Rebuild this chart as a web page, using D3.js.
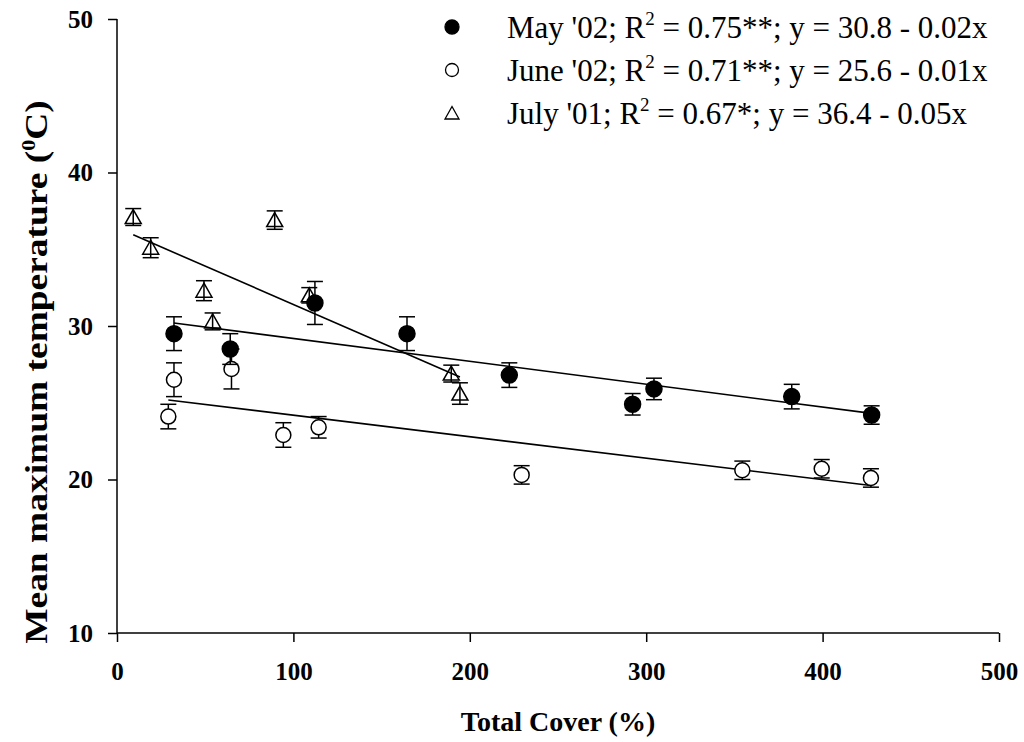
<!DOCTYPE html>
<html>
<head>
<meta charset="utf-8">
<script src="https://d3js.org/d3.v7.min.js"></script>
<style>
  body { margin: 0; background: #fff; }
  text { font-family: "Liberation Serif", "Times New Roman", serif; }
</style>
</head>
<body>
<div id="chart"></div>
<script>
// ---------------------------------------------
// ---------        Data               ---------
// ---------------------------------------------
var mayX = [32.3, 64.2, 112.2, 164.4, 222.4, 292.3, 304.4, 382.5, 427.8];
var mayY = [29.5, 28.5, 31.5, 29.5, 26.8, 24.9, 25.9, 25.4, 24.2];
var mayErr = [1.1, 1.0, 1.4, 1.1, 0.8, 0.7, 0.7, 0.8, 0.6];

var juneX = [29.1, 32.3, 64.9, 94.3, 114.3, 229.4, 354.5, 399.5, 427.4];
var juneY = [24.1, 26.5, 27.2, 22.9, 23.4, 20.3, 20.6, 20.7, 20.1];
var juneErr = [0.8, 1.1, 1.3, 0.8, 0.7, 0.6, 0.6, 0.6, 0.6];

var julyX = [9.2, 19.1, 49.3, 54.2, 89.4, 109.0, 189.5, 194.4];
var julyY = [37.1, 35.1, 32.3, 30.3, 36.9, 32.0, 26.9, 25.6];
var julyErr = [0.55, 0.65, 0.65, 0.55, 0.6, 0.5, 0.55, 0.7];

// fitted lines: intercept, slope, x range
var fitMay = [30.68, -0.0149, 32.3, 427.8];
var fitJune = [25.59, -0.0140, 29.1, 427.4];
var fitJuly = [36.4, -0.05, 9.2, 194.4];

var xTicks = [0, 100, 200, 300, 400, 500];
var yTicks = [10, 20, 30, 40, 50];

var legendLabels = [
  ["May '02; R", " = 0.75**; y = 30.8 - 0.02x"],
  ["June '02; R", " = 0.71**; y = 25.6 - 0.01x"],
  ["July '01; R", " = 0.67*; y = 36.4 - 0.05x"]
];
var legendShapes = ["filled", "open", "triangle"];

// ---------------------------------------------
// ---------    Basic Chart Layout      --------
// ---------------------------------------------
var width = 1024, height = 742;
var plotLeft = 117, plotRight = 999, plotTop = 19, plotBottom = 633;

var svg = d3.select("#chart")
  .append("svg")
    .attr("width", width)
    .attr("height", height);

var x = d3.scaleLinear().domain([0, 500]).range([plotLeft, plotRight]);
var y = d3.scaleLinear().domain([10, 50]).range([plotBottom, plotTop]);

// X axis
var xAxis = svg.append("g")
  .attr("transform", "translate(0," + plotBottom + ")")
  .call(d3.axisBottom(x).tickValues(xTicks).tickSize(9).tickPadding(20).tickFormat(d3.format("d")));

// Y axis
var yAxis = svg.append("g")
  .attr("transform", "translate(" + plotLeft + ",0)")
  .call(d3.axisLeft(y).tickValues(yTicks).tickSize(9).tickPadding(15).tickFormat(d3.format("d")));

[xAxis, yAxis].forEach(function(ax) {
  ax.attr("font-size", 25).attr("font-family", "'Liberation Serif', serif").attr("font-weight", "bold");
  ax.selectAll("path, line").attr("stroke", "#000").attr("stroke-width", 1.5);
  ax.selectAll("text").attr("fill", "#000");
});
xAxis.select(".domain").attr("d", "M" + plotLeft + ",0H" + plotRight);
yAxis.select(".domain").attr("d", "M0," + plotBottom + "V" + plotTop);

// axis titles
svg.append("text")
  .attr("x", (plotLeft + plotRight) / 2)
  .attr("y", 731)
  .attr("text-anchor", "middle")
  .style("font-weight", "bold")
  .style("font-size", "28px")
  .text("Total Cover (%)");

// y title is drawn a bit stretched along its length, like the source
var yTitle = svg.append("text")
  .attr("transform", "translate(47," + 372 + ") rotate(-90) scale(1.17,1)")
  .attr("text-anchor", "middle")
  .style("font-weight", "bold")
  .style("font-size", "32px");
yTitle.append("tspan").text("Mean maximum temperature (");
yTitle.append("tspan").attr("dy", -12).style("font-size", "19px").text("0");
yTitle.append("tspan").attr("dy", 12).text("C)");

// ---------------------------------------------
// ---------       Chart Data           --------
// ---------------------------------------------
function zipSeries(xs, ys, es) {
  return xs.map(function(v, i) { return { x: v, y: ys[i], e: es[i] }; });
}
var may = zipSeries(mayX, mayY, mayErr);
var june = zipSeries(juneX, juneY, juneErr);
var july = zipSeries(julyX, julyY, julyErr);

// regression lines
[fitMay, fitJune, fitJuly].forEach(function(f) {
  svg.append("line")
    .attr("x1", x(f[2])).attr("y1", y(f[0] + f[1] * f[2]))
    .attr("x2", x(f[3])).attr("y2", y(f[0] + f[1] * f[3]))
    .attr("stroke", "#000")
    .attr("stroke-width", 1.6);
});

// error bars
function drawErrors(data) {
  var g = svg.append("g").attr("stroke", "#000").attr("stroke-width", 1.5);
  data.forEach(function(d) {
    g.append("line").attr("x1", x(d.x)).attr("x2", x(d.x))
      .attr("y1", y(d.y - d.e)).attr("y2", y(d.y + d.e));
    g.append("line").attr("x1", x(d.x) - 8).attr("x2", x(d.x) + 8)
      .attr("y1", y(d.y + d.e)).attr("y2", y(d.y + d.e));
    g.append("line").attr("x1", x(d.x) - 8).attr("x2", x(d.x) + 8)
      .attr("y1", y(d.y - d.e)).attr("y2", y(d.y - d.e));
  });
}

var triPath = "M0,-7.5L8,6.5L-8,6.5Z";

function drawMarkers(data, shape) {
  var g = svg.append("g");
  if (shape === "triangle") {
    g.selectAll("path").data(data).join("path")
      .attr("transform", function(d) { return "translate(" + x(d.x) + "," + y(d.y) + ")"; })
      .attr("d", triPath)
      .attr("fill", "none")
      .attr("stroke", "#000")
      .attr("stroke-width", 1.5);
  } else {
    g.selectAll("circle").data(data).join("circle")
      .attr("cx", function(d) { return x(d.x); })
      .attr("cy", function(d) { return y(d.y); })
      .attr("r", shape === "filled" ? 8 : 7.5)
      .attr("fill", shape === "filled" ? "#000" : "#fff")
      .attr("stroke", "#000")
      .attr("stroke-width", 1.5);
  }
}

drawErrors(july);
drawMarkers(july, "triangle");
drawErrors(june);
drawMarkers(june, "open");
drawErrors(may);
drawMarkers(may, "filled");

// ---------------------------------------------
// ---------         Legend             --------
// ---------------------------------------------
var legend = svg.selectAll(".legend")
  .data(legendLabels)
  .enter()
  .append("g")
  .attr("class", "legend")
  .attr("transform", function(d, i) { return "translate(0," + (27 + i * 43) + ")"; });

legend.each(function(d, i) {
  var g = d3.select(this);
  var shape = legendShapes[i];
  if (shape === "triangle") {
    g.append("path").attr("transform", "translate(452,0)")
      .attr("d", "M0,-6.5L7,6L-7,6Z")
      .attr("fill", "none").attr("stroke", "#000").attr("stroke-width", 1.3);
  } else {
    g.append("circle").attr("cx", 452).attr("cy", 0)
      .attr("r", shape === "filled" ? 7 : 6.5)
      .attr("fill", shape === "filled" ? "#000" : "#fff")
      .attr("stroke", "#000").attr("stroke-width", 1.3);
  }
  var t = g.append("text")
    .attr("x", 507)
    .attr("y", 11)
    .style("font-size", "31px");
  t.append("tspan").text(d[0]);
  t.append("tspan").attr("dy", -13).style("font-size", "19px").text("2");
  t.append("tspan").attr("dy", 13).text(d[1]);
});
</script>
</body>
</html>
